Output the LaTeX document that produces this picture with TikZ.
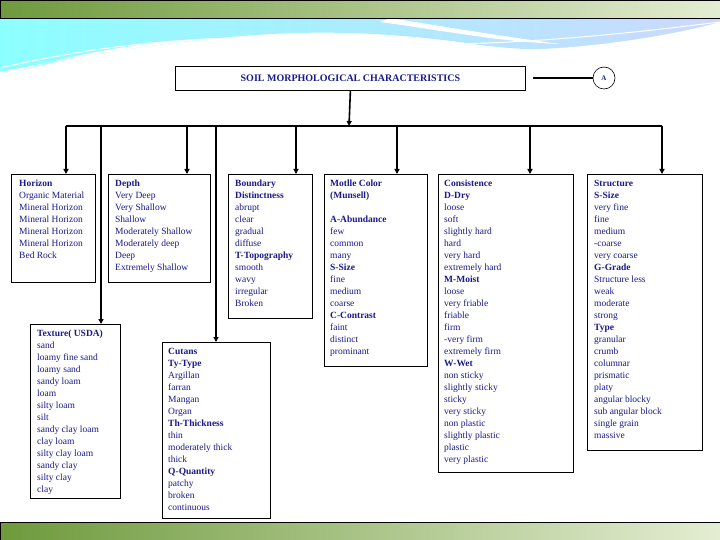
\documentclass[tikz,border=0pt]{standalone}
\usepackage{fontspec}
\setmainfont{Liberation Serif}
\usetikzlibrary{arrows.meta}
\definecolor{txt}{HTML}{1A1A8C}
\definecolor{gdark}{HTML}{6E9A3C}
\definecolor{glight}{HTML}{E4EDD2}
\begin{document}
\begin{tikzpicture}[x=1pt,y=-1pt,
  box/.style={draw,line width=0.8pt,fill=white,anchor=north west,inner sep=0},
  lst/.style={anchor=north west,align=left,text=txt,font=\fontsize{9.5}{12}\selectfont,inner sep=0},
  conn/.style={line width=1.6pt},
  arr/.style={conn,-{Triangle[length=5pt,width=5pt]}}]
\useasboundingbox (0,0) rectangle (720,540);
% background waves
\shade[left color=cyan!45!white,right color=cyan!25!blue!20!white] (0,18) -- (720,18) -- (720,30) .. controls (640,50) and (560,55) .. (480,45) .. controls (380,30) and (300,30) .. (220,38) .. controls (120,48) and (40,62) .. (0,78) -- cycle;
\fill[white] (0,78) .. controls (60,55) and (150,40) .. (220,38) .. controls (150,44) and (70,58) .. (0,72) -- cycle;
\fill[white] (380,22) .. controls (440,30) and (500,42) .. (560,44) .. controls (500,36) and (440,26) .. (390,18) -- cycle;
\draw[white,line width=1pt] (0,68) .. controls (100,45) and (200,34) .. (300,40) .. controls (400,46) and (500,50) .. (720,22);
\fill[white] (240,40) .. controls (350,36) and (450,55) .. (560,48) .. controls (640,42) and (700,28) .. (720,22) -- (720,90) -- (0,90) -- (0,78) .. controls (80,56) and (160,42) .. (240,40) -- cycle;
% bars
\shade[left color=gdark,right color=glight,draw=black,line width=0.6pt] (0,0) rectangle (720,18);
\shade[left color=gdark,right color=glight,draw=black,line width=0.6pt] (0,522) rectangle (720,540);
% title
\node[box,minimum width=350,minimum height=24,text=txt,font=\fontsize{10}{12}\selectfont\bfseries] (title) at (175,66) {SOIL MORPHOLOGICAL CHARACTERISTICS};
\node[draw,circle,line width=0.6pt,minimum size=22,inner sep=0,font=\fontsize{7}{8}\selectfont\bfseries,text=txt] (A) at (604,78) {A};
\draw[conn] (533,78) -- (A.west);
% boxes
\node[box,minimum width=84,minimum height=108] (hor) at (11,174) {};
\node[box,minimum width=102,minimum height=108] (dep) at (108,174) {};
\node[box,minimum width=84,minimum height=144] (bou) at (228,174) {};
\node[box,minimum width=90,minimum height=174] (tex) at (30,324) {};
\node[box,minimum width=108,minimum height=176] (cut) at (162,342) {};
\node[box,minimum width=103,minimum height=192] (mot) at (324,174) {};
\node[box,minimum width=135,minimum height=298] (con) at (438,174) {};
\node[box,minimum width=115,minimum height=276] (str) at (587,174) {};
% connectors
\coordinate (bus) at (349,126);
\draw[arr] (title.south) -- (bus);
\draw[conn] (66,126) -- (662,126);
\draw[arr] (66,126) -- (66,174);
\draw[arr] (187,126) -- (187,174);
\draw[arr] (296,126) -- (296,174);
\draw[arr] (397,126) -- (397,174);
\draw[arr] (530,126) -- (530,174);
\draw[arr] (662,126) -- (662,174);
\draw[arr] (101,126) -- (101,324);
\draw[arr] (216,126) -- (216,342);
% texts
\node[lst] at ([shift={(8,6)}]hor.north west) {\textbf{Horizon}\\Organic Material\\Mineral Horizon\\Mineral Horizon\\Mineral Horizon\\Mineral Horizon\\Bed Rock};
\node[lst] at ([shift={(7,6)}]dep.north west) {\textbf{Depth}\\Very Deep\\Very Shallow\\Shallow\\Moderately Shallow\\Moderately deep\\Deep\\Extremely Shallow};
\node[lst] at ([shift={(7,6)}]bou.north west) {\textbf{Boundary}\\\textbf{Distinctness}\\abrupt\\clear\\gradual\\diffuse\\\textbf{T-Topography}\\smooth\\wavy\\irregular\\Broken};
\node[lst] at ([shift={(7,6)}]tex.north west) {\textbf{Texture( USDA)}\\sand\\loamy fine sand\\loamy sand\\sandy loam\\loam\\silty loam\\silt\\sandy clay loam\\clay loam\\silty clay loam\\sandy clay\\silty clay\\clay};
\node[lst] at ([shift={(6,6)}]cut.north west) {\textbf{Cutans}\\\textbf{Ty-Type}\\Argillan\\farran\\Mangan\\Organ\\\textbf{Th-Thickness}\\thin\\moderately thick\\thick\\\textbf{Q-Quantity}\\patchy\\broken\\continuous};
\node[lst] at ([shift={(6,6)}]mot.north west) {\textbf{Motlle Color}\\\textbf{(Munsell)}\\[12pt]\textbf{A-Abundance}\\few\\common\\many\\\textbf{S-Size}\\fine\\medium\\coarse\\\textbf{C-Contrast}\\faint\\distinct\\prominant};
\node[lst] at ([shift={(6,6)}]con.north west) {\textbf{Consistence}\\\textbf{D-Dry}\\loose\\soft\\slightly hard\\hard\\very hard\\extremely hard\\\textbf{M-Moist}\\loose\\very friable\\friable\\firm\\-very firm\\extremely firm\\\textbf{W-Wet}\\non sticky\\slightly sticky\\sticky\\very sticky\\non plastic\\slightly plastic\\plastic\\very plastic};
\node[lst] at ([shift={(7,6)}]str.north west) {\textbf{Structure}\\\textbf{S-Size}\\very fine\\fine\\medium\\-coarse\\very coarse\\\textbf{G-Grade}\\Structure less\\weak\\moderate\\strong\\\textbf{Type}\\granular\\crumb\\columnar\\prismatic\\platy\\angular blocky\\sub angular block\\single grain\\massive};
\end{tikzpicture}
\end{document}
